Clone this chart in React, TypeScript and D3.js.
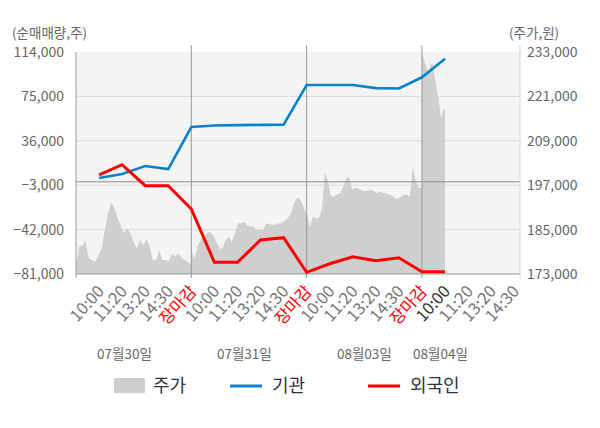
import React from 'react';
import * as d3 from 'd3';

// net buying (shares) per label slot, 4 sessions
const instNet = [3300, 6850, 13900, 11200, 48100, 49400, 49800, 50000, 50200, 85000, 85000, 85000, 82300, 82000, 91800, 108000];
const foreignNet = [6000, 15000, -3400, -3400, -23900, -70700, -70700, -51100, -49100, -79500, -72000, -65800, -69300, -66700, -79000, -79000];

// intraday price, sampled evenly through each session
const priceDay1 = [175400, 180400, 180800, 181900, 177300, 176800, 176300, 178100, 179900, 184900, 189400, 192300, 190800, 188100, 186000, 184000, 185400, 184000, 181700, 179900, 182200, 180800, 182400, 180400, 176800, 176800, 179300, 176800, 176800, 176600, 178400, 177700, 178600, 177200, 176800, 176100, 175400];
const priceDay2 = [179500, 177200, 180400, 182200, 183100, 184000, 184400, 183500, 181700, 179900, 179900, 182200, 183100, 181700, 183800, 186700, 186700, 187100, 186000, 185800, 185800, 184900, 184900, 184900, 186700, 186500, 186300, 186400, 186700, 186700, 187300, 188100, 189400, 192100, 193700, 193000, 191200, 189000];
const priceDay3 = [190000, 185500, 188500, 188100, 188000, 190300, 200200, 198400, 194000, 193900, 194400, 194800, 196600, 198800, 199200, 195700, 196400, 196000, 195800, 195400, 195400, 195700, 195500, 194800, 195200, 195000, 194800, 194500, 194200, 193600, 193200, 193900, 194400, 194400, 193900, 202000, 198000, 196200, 196400];
const priceDay4 = [232700, 230800, 229000, 227700, 229500, 230000, 226300, 223200, 220000, 215100, 216900, 217800];

const timeLabels = ['10:00', '11:20', '13:20', '14:30', '장마감'];
const dayLabels = ['07월30일', '07월31일', '08월03일', '08월04일'];
const dayLabelSlot = [2.1, 7.3, 12.5, 15.8];
const leftTicks = [114000, 75000, 36000, -3000, -42000, -81000];
const rightTicks = [233000, 221000, 209000, 197000, 185000, 173000];

const FONT = '"Noto Sans CJK KR", "Noto Sans", sans-serif';
const W = 600;
const H = 428;
const L = 76;
const R = 520;
const T = 52;
const B = 274;

export default function App() {
  const x = d3.scaleLinear().domain([0, 19.25]).range([L, R]);
  const yL = d3.scaleLinear().domain([-81000, 114000]).range([B, T]);
  const yR = d3.scaleLinear().domain([173000, 233000]).range([B, T]);

  // price points: each session covers 5 slots, last session only up to 10:00
  const priceDays = [priceDay1, priceDay2, priceDay3, priceDay4];
  const pricePts: [number, number][] = [];
  priceDays.forEach((arr, d) => {
    const span = d === 3 ? 1 : 5;
    arr.forEach((v, i) => pricePts.push([d * 5 + (i / (arr.length - 1)) * span, v]));
  });

  const area = d3.area<[number, number]>()
    .x(d => x(d[0]))
    .y0(B)
    .y1(d => yR(d[1]));

  const line = d3.line<number>()
    .x((_, i) => x(i + 1))
    .y(d => yL(d));

  const slots: { s: number; label: string; day: number }[] = [];
  for (let d = 0; d < 4; d++) {
    timeLabels.forEach((t, k) => {
      const s = d * 5 + k + 1;
      if (d === 3 && k === 4) return;
      slots.push({ s, label: t, day: d });
    });
  }

  return (
    <svg width={W} height={H} style={{ position: 'absolute', left: 0, top: 0 }} fontFamily={FONT}>
      <rect x={L} y={T} width={R - L} height={B - T} fill="#f4f4f4" />
      {leftTicks.slice(1, -1).map(t => (
        <line key={t} x1={L} x2={R} y1={yL(t)} y2={yL(t)} stroke="#dcdcdc" strokeWidth={1} />
      ))}
      <path d={area(pricePts) || ''} fill="#cfcfcf" />
      <line x1={L} x2={R} y1={yL(0)} y2={yL(0)} stroke="#8c8c8c" strokeWidth={1} />
      {[5, 10, 15].map(s => (
        <line key={s} x1={x(s)} x2={x(s)} y1={45} y2={B + 4} stroke="#999" strokeWidth={1} />
      ))}
      <line x1={L} x2={L} y1={T} y2={B + 4} stroke="#999" strokeWidth={1} />
      <line x1={R} x2={R} y1={45} y2={B + 4} stroke="#d8d8d8" strokeWidth={1} />
      <line x1={L} x2={R} y1={B} y2={B} stroke="#999" strokeWidth={1} />

      <path d={line(instNet) || ''} fill="none" stroke="#0a82cd" strokeWidth={2.6} />
      <path d={line(foreignNet) || ''} fill="none" stroke="#ff0000" strokeWidth={3} />

      <text x={12} y={38} fontSize={13.5} fill="#666">(순매매량,주)</text>
      <text x={509} y={38} fontSize={13.5} fill="#666">(주가,원)</text>
      {leftTicks.map(t => (
        <text key={t} x={64} y={yL(t) + 5} fontSize={14} fill="#666" textAnchor="end">
          {d3.format(',')(t)}
        </text>
      ))}
      {rightTicks.map(t => (
        <text key={t} x={527} y={yR(t) + 5} fontSize={14} fill="#666">
          {d3.format(',')(t)}
        </text>
      ))}

      {slots.map(({ s, label, day }) => {
        const color = label === '장마감' ? '#ff0000' : day === 3 && s === 16 ? '#333' : '#777';
        const tx = x(s) + 6;
        const ty = 292;
        return (
          <text key={s} x={tx} y={ty} fontSize={16.5} fill={color} textAnchor="end"
            transform={`rotate(-48 ${tx} ${ty})`}>
            {label}
          </text>
        );
      })}
      {dayLabels.map((d, i) => (
        <text key={d} x={x(dayLabelSlot[i])} y={359} fontSize={13.5} fill="#666" textAnchor="middle">
          {d}
        </text>
      ))}

      <rect x={114} y={378} width={31} height={15} fill="#cfcfcf" />
      <text x={153} y={392} fontSize={18} fill="#333">주가</text>
      <line x1={230} x2={262} y1={386} y2={386} stroke="#0a82cd" strokeWidth={3} />
      <text x={272} y={392} fontSize={18} fill="#333">기관</text>
      <line x1={368} x2={400} y1={386} y2={386} stroke="#ff0000" strokeWidth={3} />
      <text x={410} y={392} fontSize={18} fill="#333">외국인</text>
    </svg>
  );
}
